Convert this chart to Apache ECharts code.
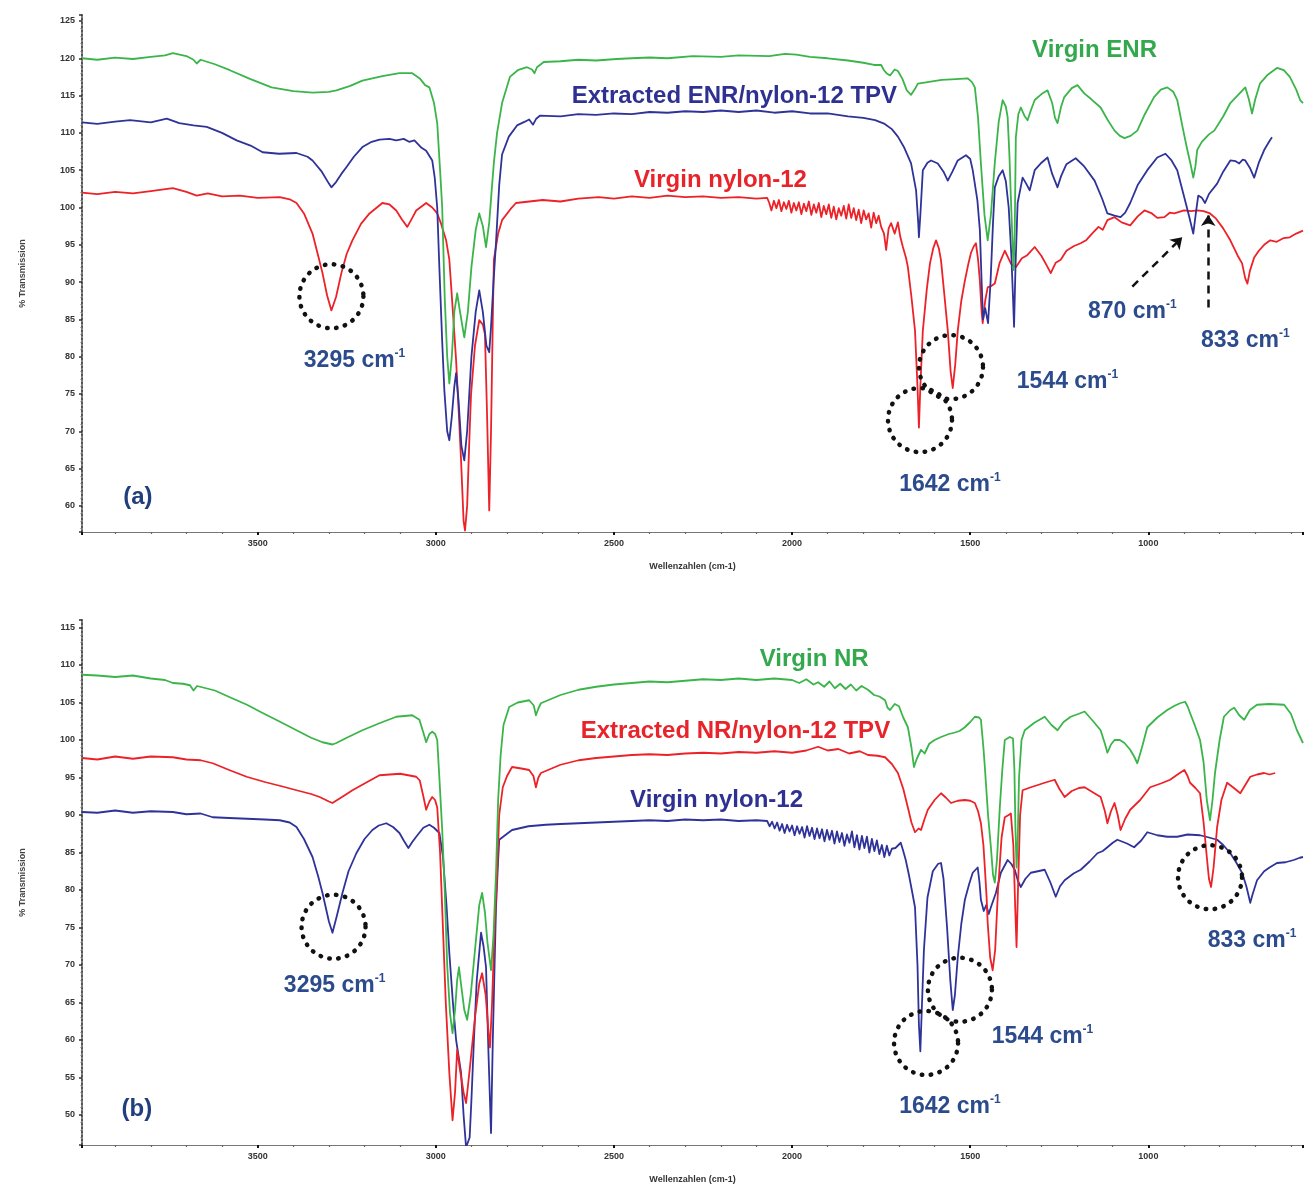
<!DOCTYPE html>
<html><head><meta charset="utf-8">
<script src="https://cdn.jsdelivr.net/npm/echarts@6/dist/echarts.min.js"></script>
<style>html,body{margin:0;padding:0;background:#fff}#c{width:1306px;height:1191px}</style>
</head><body><div id="c"></div><script>
// ---------- tick labels ----------
const xTicks = [3500, 3000, 2500, 2000, 1500, 1000];
const yTicksA = [60, 65, 70, 75, 80, 85, 90, 95, 100, 105, 110, 115, 120, 125];
const yTicksB = [50, 55, 60, 65, 70, 75, 80, 85, 90, 95, 100, 105, 110, 115];

// ---------- panel (a) series: [wavenumber, %T] ----------
const virginENR_a = [[3993,120.0],[3950,119.8],[3900,120.1],[3850,119.9],[3800,120.2],[3760,120.4],[3738,120.7],[3700,120.3],[3680,119.8],[3671,119.3],[3660,119.8],[3620,119.2],[3578,118.4],[3520,117.2],[3461,116.1],[3400,115.6],[3346,115.4],[3300,115.5],[3279,115.7],[3240,116.3],[3206,117.0],[3150,117.6],[3102,118.0],[3066,118.0],[3045,117.3],[3030,116.4],[3018,116.1],[3005,114],[2996,111.3],[2988,105],[2982,100],[2975,88],[2968,80],[2962,76.4],[2955,80],[2948,86],[2940,88.5],[2932,86],[2920,82.6],[2910,86],[2900,92],[2888,97],[2878,99.2],[2868,97.5],[2859,94.7],[2850,98],[2842,103],[2837,106],[2828,110],[2814,114],[2792,117.5],[2770,118.4],[2744,118.8],[2730,118.5],[2723,118.0],[2716,118.8],[2697,119.5],[2650,119.6],[2600,119.8],[2550,119.7],[2492,119.9],[2450,120.0],[2400,120.1],[2350,120.0],[2279,120.3],[2200,120.2],[2150,120.4],[2064,120.3],[2020,120.6],[1988,120.5],[1950,120.2],[1900,120.0],[1843,119.7],[1800,119.4],[1770,119.1],[1750,119.1],[1742,118.4],[1735,118.0],[1725,117.7],[1712,118.5],[1703,118.3],[1690,117.2],[1678,115.7],[1666,115.1],[1655,115.9],[1647,116.6],[1620,116.8],[1580,117.1],[1540,117.2],[1507,117.3],[1495,116.8],[1487,116.1],[1478,112],[1470,105.9],[1460,99],[1451,95.6],[1442,99],[1431,106],[1420,111.5],[1409,114.4],[1400,113.5],[1395,112.1],[1390,107],[1386,101.4],[1381,95],[1378,91.6],[1375,97],[1372,109.4],[1365,112.5],[1358,113.4],[1348,112.3],[1339,111.7],[1330,113],[1319,114.4],[1300,115.2],[1283,115.7],[1270,114],[1262,112],[1255,111.3],[1245,113.5],[1236,114.8],[1215,116],[1199,116.4],[1180,115.3],[1160,114.5],[1134,113.4],[1115,111.8],[1095,110.3],[1080,109.6],[1067,109.3],[1050,109.6],[1031,110.3],[1010,112.5],[984,114.8],[965,115.8],[947,116.1],[930,115.5],[919,114.4],[905,111],[892,108],[882,105.9],[874,104.0],[868,105.5],[863,107.7],[850,108.8],[830,109.8],[815,110.3],[790,112.2],[770,114],[750,115],[728,116.1],[718,114.5],[709,112.6],[700,114.5],[687,116.6],[665,117.8],[639,118.7],[620,118.4],[603,117.5],[585,115.8],[574,114.4],[566,114.0]];

const extractedTPV_a = [[3993,111.4],[3950,111.2],[3900,111.5],[3858,111.7],[3800,111.4],[3755,111.9],[3720,111.3],[3680,111.0],[3643,110.8],[3600,110.0],[3559,109.0],[3520,108.3],[3486,107.4],[3440,107.2],[3391,107.3],[3360,106.8],[3346,106.3],[3320,104.8],[3300,103.2],[3293,102.7],[3280,103.4],[3265,104.5],[3251,105.4],[3230,106.8],[3206,108.1],[3180,108.8],[3158,109.1],[3130,109.2],[3111,109.0],[3090,109.2],[3075,108.8],[3060,109.0],[3040,108.0],[3027,107.6],[3010,106.3],[3003,104],[2996,100],[2990,92],[2982,82],[2976,75.5],[2968,70],[2962,68.8],[2955,72],[2948,76],[2943,77.8],[2936,74],[2928,68],[2920,66.1],[2912,70],[2900,80],[2888,86],[2878,88.9],[2868,86],[2858,81.5],[2850,80.6],[2845,84],[2838,90],[2831,95.3],[2822,103],[2814,107.1],[2795,109.5],[2772,111.0],[2750,111.5],[2738,111.8],[2727,111.1],[2718,111.9],[2708,112.3],[2650,112.2],[2600,112.5],[2550,112.4],[2500,112.6],[2450,112.5],[2400,112.8],[2350,112.7],[2300,112.9],[2250,112.8],[2200,113.0],[2150,112.8],[2100,113.0],[2050,112.7],[2000,112.9],[1950,112.6],[1900,112.6],[1843,112.2],[1800,112.0],[1767,111.7],[1740,111.2],[1720,110.5],[1703,109.5],[1685,108],[1666,105.9],[1652,102.3],[1646,98],[1644,96.0],[1640,99],[1633,105.0],[1620,106.0],[1610,106.3],[1591,105.9],[1575,104.8],[1563,103.6],[1550,104.8],[1535,106.3],[1512,107.0],[1500,106.5],[1493,105.0],[1480,101],[1473,97],[1468,90],[1464,85.0],[1458,86.5],[1450,84.5],[1443,90],[1436,98],[1431,102.7],[1420,104.2],[1409,105.0],[1400,103.5],[1392,100],[1385,94],[1380,88],[1377,84.0],[1373,92],[1367,100.6],[1353,104.0],[1343,103.2],[1333,102.3],[1319,105.0],[1300,106.0],[1283,106.7],[1270,104.5],[1255,102.7],[1245,104.2],[1230,105.8],[1204,106.6],[1180,105.5],[1151,103.6],[1130,101.2],[1115,99.2],[1095,98.9],[1078,98.7],[1065,99.3],[1051,100.6],[1030,103],[1003,105.0],[975,106.7],[952,107.2],[935,106.3],[919,105.0],[900,101.5],[885,98.7],[874,96.5],[866,99.5],[860,101.6],[850,101.3],[841,100.6],[830,101.8],[807,103.2],[790,104.8],[770,106.3],[755,106.2],[745,105.9],[735,106.4],[728,106.3],[715,105.3],[703,104.0],[690,106.0],[675,107.7],[660,108.9],[653,109.4]];

const nylon12_a = [[3993,102.0],[3950,101.8],[3900,102.1],[3850,101.9],[3800,102.2],[3738,102.6],[3700,102.1],[3671,101.6],[3640,101.9],[3600,101.5],[3550,101.6],[3500,101.3],[3438,101.4],[3410,101.1],[3391,100.6],[3370,99.2],[3346,96.5],[3330,93.5],[3318,91.2],[3305,88.2],[3293,86.2],[3280,88],[3265,91.2],[3250,93.8],[3234,95.6],[3210,97.8],[3186,99.2],[3150,100.6],[3130,100.4],[3111,99.6],[3095,98.4],[3080,97.4],[3066,98.6],[3055,99.6],[3027,100.6],[3010,100.0],[2996,99.2],[2985,97.8],[2971,95.6],[2962,93],[2952,86],[2943,79.5],[2935,72],[2929,66],[2922,58],[2918,56.7],[2912,60],[2905,70],[2901,75],[2890,81.5],[2878,84.9],[2868,84.3],[2862,83],[2856,72],[2850,59.4],[2845,70],[2840,85],[2837,93],[2825,96.5],[2814,98.3],[2790,99.8],[2775,100.6],[2700,101.0],[2650,100.8],[2600,101.2],[2543,101.4],[2500,101.2],[2450,101.5],[2400,101.3],[2350,101.6],[2300,101.4],[2250,101.5],[2200,101.3],[2150,101.4],[2100,101.2],[2070,101.3],[2064,100.6],[2058,99.6],[2051,100.9],[2044,99.9],[2037,101.0],[2030,99.5],[2023,100.7],[2016,99.8],[2009,100.9],[2002,99.3],[1995,100.6],[1988,99.6],[1981,100.7],[1974,99.1],[1967,100.5],[1960,99.5],[1953,100.8],[1946,99.0],[1939,100.4],[1932,99.3],[1925,100.6],[1918,98.7],[1911,100.2],[1904,99.1],[1897,100.4],[1890,98.6],[1883,100.1],[1876,98.4],[1869,99.9],[1862,98.9],[1855,100.2],[1848,98.5],[1841,100.4],[1834,98.6],[1827,99.9],[1820,98.3],[1813,99.7],[1806,97.9],[1799,99.6],[1792,98.4],[1785,99.2],[1778,97.3],[1771,99.3],[1764,97.9],[1757,98.9],[1750,97.4],[1742,96.5],[1736,94.3],[1729,97.2],[1722,97.9],[1712,96.5],[1703,98.0],[1696,96],[1689,94.7],[1680,93.2],[1675,92.0],[1665,88],[1655,83.5],[1648,76],[1644,70.5],[1640,76],[1633,83.5],[1622,89],[1613,92.5],[1604,94.5],[1596,95.6],[1588,94.5],[1582,92.9],[1572,88],[1563,83.5],[1555,78],[1549,75.8],[1542,79],[1535,83.5],[1525,87.5],[1515,90.2],[1505,92.5],[1498,93.9],[1490,94.8],[1484,95.2],[1478,93],[1473,90.2],[1468,86],[1465,84.5],[1458,87.5],[1451,89.3],[1440,89.5],[1431,89.8],[1418,92.5],[1403,94.2],[1395,93.4],[1386,92.5],[1372,92.0],[1355,93.2],[1340,93.6],[1319,94.7],[1300,93.5],[1285,92.2],[1274,91.2],[1260,92.6],[1246,93.0],[1230,94.2],[1210,94.8],[1190,95.2],[1175,95.6],[1160,96.4],[1140,97.4],[1128,97.0],[1115,98.3],[1095,98.7],[1075,98.0],[1051,97.6],[1030,98.8],[1011,99.6],[990,99.2],[975,98.6],[955,98.7],[940,99.3],[927,99.2],[900,99.6],[880,99.5],[863,99.6],[845,99.5],[827,99.2],[810,98.5],[790,97.2],[770,95.6],[750,93.6],[737,92.5],[728,90.5],[722,89.8],[715,91.5],[703,93.3],[690,94.2],[675,95.0],[658,95.6],[640,95.4],[620,95.9],[603,96.0],[585,96.5],[566,96.9]];

// ---------- panel (b) series ----------
const virginNR_b = [[3993,108.7],[3950,108.6],[3900,108.4],[3850,108.6],[3800,108.2],[3760,108.0],[3738,107.6],[3710,107.5],[3690,107.3],[3680,106.6],[3670,107.2],[3620,106.6],[3578,105.7],[3530,104.7],[3486,103.6],[3440,102.5],[3391,101.3],[3350,100.3],[3318,99.7],[3290,99.4],[3279,99.6],[3250,100.3],[3206,101.3],[3160,102.2],[3111,103.1],[3066,103.3],[3046,102.7],[3035,101],[3027,99.7],[3018,100.8],[3010,101.1],[3002,100.8],[2996,100],[2990,95],[2982,88],[2975,80],[2968,70],[2960,63.5],[2953,60.9],[2946,64],[2940,68],[2935,69.7],[2928,67],[2920,64],[2912,62.7],[2902,66],[2890,72],[2878,78],[2870,79.6],[2862,77],[2855,73],[2845,69.3],[2838,74],[2831,82.3],[2825,92],[2818,98],[2810,102],[2794,104.4],[2770,105.0],[2738,105.3],[2725,104.6],[2719,103.3],[2712,104.2],[2705,104.9],[2650,106.0],[2599,106.7],[2550,107.1],[2500,107.4],[2450,107.6],[2400,107.8],[2350,107.7],[2300,107.9],[2250,108.1],[2200,108.0],[2150,108.2],[2100,108.0],[2050,108.2],[2000,108.0],[1980,107.6],[1960,108.1],[1940,107.4],[1927,107.7],[1910,107.1],[1895,107.8],[1880,106.9],[1865,107.5],[1850,106.8],[1835,107.4],[1820,106.6],[1805,107.2],[1787,106.7],[1770,106.0],[1755,105.8],[1739,105.3],[1732,104.3],[1725,104.0],[1712,104.8],[1700,104.5],[1688,103],[1675,101.7],[1665,99],[1658,96.4],[1650,97.5],[1638,98.7],[1628,98.2],[1615,99.5],[1600,100],[1582,100.4],[1560,100.8],[1543,101.0],[1530,101.2],[1515,101.7],[1500,102.4],[1487,103.1],[1475,103],[1470,102.7],[1463,99],[1459,96.4],[1450,90],[1442,85.7],[1436,82],[1431,81.0],[1425,84],[1417,91],[1410,96],[1403,100.0],[1389,100.4],[1380,100.2],[1376,96],[1373,88],[1370,83.0],[1367,86],[1363,95],[1356,100],[1347,101.3],[1320,102.3],[1291,103.1],[1272,102],[1255,101.3],[1238,102.4],[1218,103.1],[1195,103.5],[1179,103.8],[1155,102.5],[1134,101.3],[1122,99.5],[1115,98.3],[1105,99.4],[1095,100.0],[1080,100.0],[1067,99.6],[1051,98.7],[1040,97.8],[1031,96.9],[1018,99],[1003,101.7],[975,103],[947,104.0],[925,104.6],[911,104.9],[897,105.1],[890,104.5],[883,103.6],[870,102],[855,100.0],[845,97],[836,92.0],[827,89.3],[820,92],[813,95.6],[800,100],[788,103.1],[770,104.0],[759,104.3],[745,103.3],[731,102.7],[715,104],[695,104.7],[660,104.8],[619,104.7],[600,103.5],[583,101.3],[566,99.6]];

const extractedTPV_b = [[3993,97.6],[3950,97.4],[3900,97.8],[3850,97.5],[3800,97.8],[3738,97.7],[3700,97.4],[3660,97.3],[3626,96.9],[3580,96.0],[3531,95.1],[3480,94.4],[3430,93.8],[3391,93.3],[3350,92.8],[3326,92.4],[3300,91.8],[3290,91.6],[3270,92.2],[3250,92.8],[3234,93.3],[3200,94.2],[3158,95.3],[3100,95.5],[3055,95.1],[3045,94.6],[3035,92.5],[3027,90.7],[3018,91.8],[3010,92.4],[3002,92],[2996,91],[2988,85],[2980,75],[2972,65],[2962,55.6],[2953,49.3],[2946,53],[2940,58.7],[2932,56],[2922,53],[2915,51.6],[2905,56],[2890,63],[2878,67.5],[2870,68.9],[2860,66],[2852,61],[2848,59],[2842,65],[2835,75],[2828,82.3],[2822,90],[2812,93.7],[2800,95.2],[2786,96.4],[2760,96.2],[2738,96.0],[2726,95.2],[2719,93.7],[2712,95],[2705,95.6],[2650,96.7],[2599,97.3],[2550,97.6],[2500,97.8],[2450,98.0],[2400,98.1],[2350,98.0],[2300,98.2],[2250,98.3],[2200,98.2],[2150,98.4],[2100,98.3],[2050,98.5],[2000,98.3],[1960,98.6],[1927,99.1],[1900,98.6],[1870,98.8],[1840,98.2],[1810,98.5],[1787,98.0],[1760,97.9],[1739,97.7],[1720,96.8],[1703,95.6],[1688,93.5],[1675,91.0],[1665,89],[1655,87.7],[1645,88.2],[1638,88.0],[1628,89.5],[1619,90.7],[1600,92.0],[1582,92.9],[1568,92.3],[1554,91.6],[1535,91.9],[1515,92.0],[1500,91.9],[1487,91.6],[1478,90.5],[1470,88.9],[1463,86],[1459,83.0],[1454,79],[1451,75.6],[1444,71],[1437,69.3],[1430,72],[1422,80],[1412,87],[1403,89.7],[1392,90.0],[1386,90.2],[1379,86],[1374,78],[1370,72.4],[1366,80],[1360,90],[1353,93.3],[1330,93.7],[1310,94.0],[1291,94.3],[1263,94.7],[1250,93.5],[1235,92.4],[1215,93.2],[1195,93.6],[1179,93.7],[1155,93.0],[1134,92.4],[1122,90.5],[1115,88.9],[1105,90.5],[1095,91.6],[1086,90],[1078,88.0],[1065,89.5],[1051,90.7],[1023,92.0],[995,93.7],[965,94.2],[939,94.7],[915,95.5],[899,96.0],[890,95.2],[883,94.3],[868,93.6],[855,92.9],[845,89],[836,84.4],[830,81.5],[824,80.4],[817,83],[807,88.4],[795,92],[779,94.3],[760,93.6],[742,92.9],[728,94],[714,95.1],[695,95.4],[675,95.6],[660,95.4],[644,95.6]];

const nylon12_b = [[3993,90.4],[3950,90.3],[3900,90.6],[3850,90.3],[3800,90.5],[3738,90.4],[3700,90.1],[3660,90.2],[3626,89.7],[3580,89.6],[3530,89.5],[3480,89.4],[3438,89.3],[3410,89.0],[3391,88.4],[3370,86.8],[3346,84.4],[3330,81.8],[3318,79.6],[3300,75.8],[3290,74.3],[3278,76.5],[3262,79.6],[3245,82.5],[3223,84.9],[3200,86.8],[3178,88.0],[3160,88.6],[3139,88.9],[3120,88.4],[3102,87.6],[3090,86.6],[3077,85.6],[3066,86.4],[3055,87.1],[3035,88.3],[3018,88.7],[3005,88.3],[2990,87.6],[2980,84.5],[2970,78],[2962,71.6],[2952,65],[2943,60],[2935,57.5],[2929,55.6],[2922,50],[2915,45.7],[2905,47],[2900,52],[2893,60],[2885,68],[2873,74.3],[2866,72.5],[2859,69.7],[2852,58],[2845,47.6],[2840,60],[2835,70],[2831,77.7],[2826,83],[2822,86.7],[2800,87.5],[2786,88.0],[2740,88.5],[2691,88.7],[2650,88.8],[2599,88.9],[2550,89.0],[2500,89.1],[2450,89.2],[2400,89.3],[2350,89.2],[2300,89.4],[2250,89.3],[2200,89.4],[2150,89.2],[2100,89.3],[2070,89.2],[2063,88.5],[2056,89.1],[2049,88.2],[2042,89.0],[2035,87.9],[2028,88.8],[2021,87.6],[2014,88.7],[2007,87.8],[2000,88.6],[1993,87.3],[1986,88.5],[1979,87.5],[1972,88.4],[1965,87.0],[1958,88.5],[1951,87.2],[1944,88.3],[1937,86.8],[1930,88.2],[1923,86.9],[1916,88.1],[1909,86.5],[1902,88.0],[1895,86.7],[1888,87.9],[1881,86.2],[1874,87.8],[1867,86.4],[1860,87.6],[1853,85.9],[1846,87.4],[1839,86.3],[1832,87.8],[1825,85.7],[1818,87.3],[1811,85.4],[1804,87.2],[1797,85.6],[1790,87.1],[1783,85.0],[1776,86.8],[1769,85.2],[1762,86.6],[1755,84.8],[1748,86.0],[1741,84.4],[1734,85.9],[1727,84.6],[1720,85.5],[1710,85.6],[1695,86.3],[1688,85.2],[1681,84.0],[1672,82],[1662,79.5],[1655,77.7],[1648,70],[1644,62],[1640,58.5],[1636,64],[1630,72],[1620,79],[1605,82.5],[1590,83.5],[1582,83.6],[1575,81.5],[1565,75],[1556,68],[1549,64.0],[1543,66],[1535,71],[1525,75.5],[1515,78.7],[1503,80.8],[1493,82.3],[1479,83.0],[1474,81],[1470,78.7],[1462,77.2],[1455,78],[1448,76.8],[1442,77.7],[1428,79.6],[1414,82.3],[1395,84.0],[1385,83.5],[1375,82.7],[1366,81.2],[1358,80.4],[1345,81.5],[1330,82.3],[1310,82.5],[1291,82.7],[1275,81],[1260,79.1],[1248,80.5],[1235,81.3],[1210,82.2],[1190,82.7],[1165,83.8],[1143,84.9],[1128,85.2],[1115,85.7],[1100,86.3],[1087,86.7],[1060,86.2],[1040,85.7],[1020,86.6],[1003,87.7],[975,87.3],[947,87.1],[919,87.1],[890,87.4],[855,87.3],[830,87.0],[807,86.7],[790,86.0],[770,84.9],[755,83.8],[737,82.3],[725,80.5],[714,78.3],[707,79.5],[695,81.3],[675,82.5],[660,83.0],[639,83.6],[615,83.7],[592,84.0],[575,84.3],[566,84.4]];

// ---------- annotations (data coordinates) ----------
const circlesA = [[3293, 88.1], [1641, 71.5], [1554, 78.6]];
const circlesB = [[3287, 75.1], [1624, 59.6], [1529, 66.7], [827, 81.7]];
const arrowsA = [[[1045, 89.4], [905, 96.0]], [[832, 86.6], [832, 99.0]]];
const labelsA = [
  [1151, 121.1, 'Virgin ENR', 'green'],
  [2162, 114.9, 'Extracted ENR/nylon-12 TPV', 'blue'],
  [2201, 103.6, 'Virgin nylon-12', 'red'],
  [3228, 79.5, '3295', 'cm'],
  [1557, 62.8, '1642', 'cm'],
  [1227, 76.7, '1544', 'cm'],
  [1045, 86.0, '870', 'cm'],
  [728, 82.2, '833', 'cm'],
  [3836, 61.2, '(a)', 'tag']
];
const labelsB = [
  [1938, 110.7, 'Virgin NR', 'green'],
  [2159, 101.2, 'Extracted NR/nylon-12 TPV', 'red'],
  [2212, 92.0, 'Virgin nylon-12', 'blue'],
  [3284, 67.3, '3295', 'cm'],
  [1557, 51.1, '1642', 'cm'],
  [1297, 60.4, '1544', 'cm'],
  [709, 73.3, '833', 'cm'],
  [3839, 50.7, '(b)', 'tag']
];

// ---------- styling ----------
const GREEN = '#3bb54a', BLUE = '#2f3399', RED = '#ec2228';
const TXT = {green: '#33a84c', blue: '#2e3192', red: '#e8232a', cm: '#2b4b8c', tag: '#213f7c'};
const FONT = "'Liberation Sans', Arial, sans-serif";

const chart = echarts.init(document.getElementById('c'), null, {renderer: 'canvas'});

function xAxisDef(gi) {
  return {
    type: 'value', gridIndex: gi, inverse: true, min: 566, max: 3993,
    minInterval: 500, maxInterval: 500,
    name: 'Wellenzahlen (cm-1)', nameLocation: 'middle', nameGap: 30,
    nameTextStyle: {fontFamily: FONT, fontSize: 9, fontWeight: 'bold', color: '#333'},
    axisLine: {show: true, lineStyle: {color: '#777', width: 1.2}},
    axisTick: {show: true, length: 3, lineStyle: {color: '#111', width: 2}},
    minorTick: {show: true, splitNumber: 5, length: 2, lineStyle: {color: '#666', width: 1.2}},
    axisLabel: {fontFamily: FONT, fontSize: 9, fontWeight: 'bold', color: '#333', margin: 7,
      formatter: v => (xTicks.includes(Math.round(v)) && Math.abs(v - Math.round(v)) < 1e-6) ? String(Math.round(v)) : ''},
    splitLine: {show: false}, minorSplitLine: {show: false}
  };
}
function yAxisDef(gi, mn, mx, ticks) {
  return {
    type: 'value', gridIndex: gi, min: mn, max: mx, minInterval: 5, maxInterval: 5,
    name: '% Transmission', nameLocation: 'middle', nameGap: 55, nameRotate: 90,
    nameTextStyle: {fontFamily: FONT, fontSize: 9, fontWeight: 'bold', color: '#444'},
    axisLine: {show: true, lineStyle: {color: '#555', width: 2, type: 'dotted'}},
    axisTick: {show: true, length: 3, lineStyle: {color: '#333', width: 1.5}},
    minorTick: {show: true, splitNumber: 5, length: 1.5, lineStyle: {color: '#777'}},
    axisLabel: {fontFamily: FONT, fontSize: 9, fontWeight: 'bold', color: '#333', margin: 7,
      formatter: v => (ticks.includes(Math.round(v)) && Math.abs(v - Math.round(v)) < 1e-6) ? String(Math.round(v)) : ''},
    splitLine: {show: false}
  };
}
function lineSeries(data, color, gi, extra) {
  return Object.assign({
    type: 'line', data: data, xAxisIndex: gi, yAxisIndex: gi, showSymbol: false, symbol: 'none',
    animation: false, silent: true, clip: true,
    lineStyle: {color: color, width: 1.8, join: 'round'}, itemStyle: {color: color}
  }, extra || {});
}
const circleMark = list => ({
  silent: true, animation: false, symbol: 'circle', symbolSize: 64,
  label: {show: false},
  itemStyle: {color: 'rgba(0,0,0,0)', borderColor: '#111', borderWidth: 4.5, borderType: [0.5, 8.5], borderCap: 'round'},
  data: list.map(c => ({coord: c}))
});

const option = {
  backgroundColor: '#fff',
  animation: false,
  grid: [
    {left: 82, right: 0, top: 15, height: 517, containLabel: false},
    {left: 82, right: 0, top: 620, height: 525, containLabel: false}
  ],
  xAxis: [xAxisDef(0), xAxisDef(1)],
  yAxis: [yAxisDef(0, 56.5, 125.8, yTicksA), yAxisDef(1, 46, 116, yTicksB)],
  series: [
    lineSeries(nylon12_a, RED, 0),
    lineSeries(extractedTPV_a, BLUE, 0, {
      markLine: {
        silent: true, animation: false, symbol: ['none', 'arrow'], symbolSize: 11,
        label: {show: false},
        lineStyle: {color: '#111', width: 2.5, type: [8, 6]},
        data: arrowsA.map(a => [{coord: a[0]}, {coord: a[1]}])
      }
    }),
    lineSeries(virginENR_a, GREEN, 0, {markPoint: circleMark(circlesA)}),
    lineSeries(nylon12_b, BLUE, 1),
    lineSeries(extractedTPV_b, RED, 1),
    lineSeries(virginNR_b, GREEN, 1, {markPoint: circleMark(circlesB)})
  ]
};
chart.setOption(option);

function makeLabel(gi, l) {
  const p = chart.convertToPixel({gridIndex: gi}, [l[0], l[1]]);
  const kind = l[3];
  let style;
  if (kind === 'cm') {
    style = {
      text: '{m|' + l[2] + ' cm}{s|-1}',
      rich: {
        m: {fontFamily: FONT, fontSize: 23, fontWeight: 'bold', fill: TXT.cm, lineHeight: 26},
        s: {fontFamily: FONT, fontSize: 12, fontWeight: 'bold', fill: TXT.cm, lineHeight: 15, verticalAlign: 'top'}
      },
      align: 'center', verticalAlign: 'middle'
    };
  } else {
    style = {
      text: l[2], fontFamily: FONT, fontSize: 24, fontWeight: 'bold', fill: TXT[kind],
      align: 'center', verticalAlign: 'middle'
    };
  }
  return {type: 'text', x: p[0], y: p[1], silent: true, z: 100, style: style};
}
const graphics = labelsA.map(l => makeLabel(0, l)).concat(labelsB.map(l => makeLabel(1, l)));
chart.setOption({graphic: graphics});
</script></body></html>
